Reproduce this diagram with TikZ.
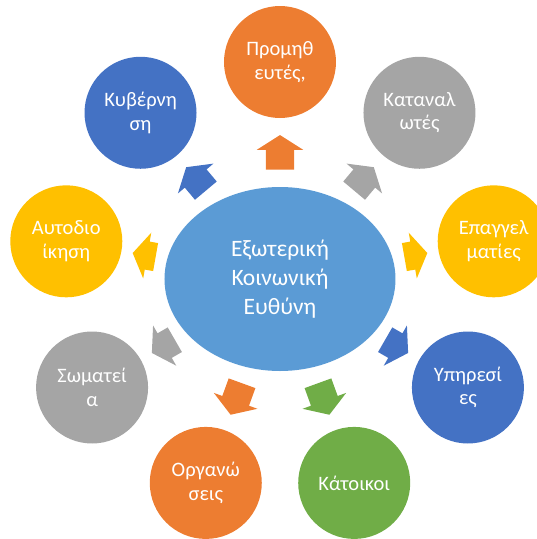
\documentclass[tikz,border=0pt]{standalone}
\usepackage{fontspec}
\setmainfont{Carlito}
\usepackage{tikz}
\usetikzlibrary{shapes.geometric, shapes.arrows}
\definecolor{offorange}{RGB}{237, 125, 49}
\definecolor{offgray}{RGB}{165, 165, 165}
\definecolor{offgold}{RGB}{255, 192, 0}
\definecolor{offblue}{RGB}{68, 114, 196}
\definecolor{offgreen}{RGB}{112, 173, 71}
\definecolor{centerblue}{RGB}{91, 155, 213}

\begin{document}
\begin{tikzpicture}[
    x=1pt, y=1pt,
    core/.style={ellipse, fill=centerblue, text=white, minimum width=231pt, minimum height=184pt, inner sep=0pt, align=center, font=\fontsize{23.5}{29}\selectfont},
    group/.style={circle, text=white, minimum size=112pt, inner sep=0pt, align=center, font=\fontsize{20.5}{23.5}\selectfont},
    push/.style={single arrow, draw=none, anchor=tail, inner xsep=0pt, inner ysep=14pt, single arrow head extend=9pt, single arrow tip angle=115}
]
    \useasboundingbox (-280, -260) rectangle (257, 279);

    % Centre
    \node[core] (ecr) at (0, 0) {Εξωτερική\\Κοινωνική\\Ευθύνη};

    % Groups
    \node[group, fill=offorange] (prom) at (90:217) {Προμηθ\\ευτές,};
    \node[group, fill=offgray] (katan) at (50:217) {Καταναλ\\ωτές};
    \node[group, fill=offgold] (epag) at (10:217) {Επαγγελ\\ματίες};
    \node[group, fill=offblue] (ypir) at (-30:217) {Υπηρεσί\\ες};
    \node[group, fill=offgreen] (katoik) at (-70:217) {Κάτοικοι};
    \node[group, fill=offorange] (organ) at (-110:217) {Οργανώ\\σεις};
    \node[group, fill=offgray] (somat) at (-150:217) {Σωματεί\\α};
    \node[group, fill=offgold] (autod) at (170:217) {Αυτοδιο\\ίκηση};
    \node[group, fill=offblue] (kyv) at (130:217) {Κυβέρνη\\ση};

    % Arrows
    \node[push, fill=offorange, minimum height=34.5pt, rotate=90] (a-prom) at (90:109.25) {};
    \node[push, fill=offgray, minimum height=30.6pt, rotate=50] (a-katan) at (50:115.15) {};
    \node[push, fill=offgold, minimum height=23.3pt, rotate=10] (a-epag) at (10:126.1) {};
    \node[push, fill=offblue, minimum height=26.5pt, rotate=-30] (a-ypir) at (-30:121.25) {};
    \node[push, fill=offgreen, minimum height=33.5pt, rotate=-70] (a-katoik) at (-70:110.75) {};
    \node[push, fill=offorange, minimum height=33.5pt, rotate=-110] (a-organ) at (-110:110.75) {};
    \node[push, fill=offgray, minimum height=26.5pt, rotate=-150] (a-somat) at (-150:121.25) {};
    \node[push, fill=offgold, minimum height=23.3pt, rotate=170] (a-autod) at (170:126.1) {};
    \node[push, fill=offblue, minimum height=30.6pt, rotate=130] (a-kyv) at (130:115.15) {};
\end{tikzpicture}
\end{document}
